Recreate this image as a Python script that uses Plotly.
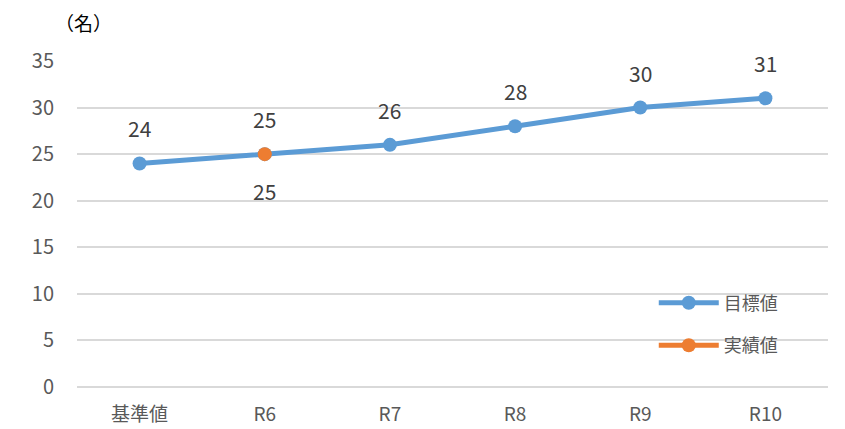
import plotly.graph_objects as go

categories = ["基準値", "R6", "R7", "R8", "R9", "R10"]
target_values = [24, 25, 26, 28, 30, 31]
actual_categories = ["R6"]
actual_values = [25]
y_ticks = [0, 5, 10, 15, 20, 25, 30, 35]

FONT = "Noto Sans CJK JP, Lato, sans-serif"
BLUE = "#5B9BD5"
ORANGE = "#ED7D31"

fig = go.Figure()
fig.add_trace(go.Scatter(
    x=categories, y=target_values, mode="lines+markers", name="目標値",
    line=dict(color=BLUE, width=5), marker=dict(color=BLUE, size=14),
    legendgroup="a", cliponaxis=False,
))
fig.add_trace(go.Scatter(
    x=actual_categories, y=actual_values, mode="lines+markers", name="実績値",
    line=dict(color=ORANGE, width=5), marker=dict(color=ORANGE, size=14),
    legendgroup="b", cliponaxis=False,
))

annotations = []
for c, v in zip(categories, target_values):
    annotations.append(dict(x=c, y=v, text=str(v), showarrow=False, yshift=35,
                            font=dict(family=FONT, size=21, color="#404040")))
for c, v in zip(actual_categories, actual_values):
    annotations.append(dict(x=c, y=v, text=str(v), showarrow=False, yshift=-37,
                            font=dict(family=FONT, size=21, color="#404040")))
annotations.append(dict(xref="paper", yref="paper", x=0.0, y=1.0, yshift=39,
                        xshift=6, xanchor="center", yanchor="middle",
                        text="（名）", showarrow=False,
                        font=dict(family=FONT, size=19, color="#000000")))

fig.update_layout(
    width=845, height=429,
    margin=dict(l=77, r=17, t=61, b=42, autoexpand=False),
    paper_bgcolor="white", plot_bgcolor="white",
    font=dict(family=FONT, color="#595959"),
    showlegend=True,
    legend=dict(x=0.768, y=0.193, xanchor="left", yanchor="middle",
                bgcolor="rgba(0,0,0,0)", font=dict(size=18, color="#595959"),
                tracegroupgap=16, itemwidth=60),
    annotations=annotations,
)
fig.update_xaxes(type="category", showgrid=False, showline=False, zeroline=False,
                 tickfont=dict(size=19, color="#595959"), ticks="", ticklabelstandoff=14,
                 range=[-0.5, 5.5], automargin=False)
fig.update_yaxes(range=[0, 35], tickvals=y_ticks, showgrid=True, gridcolor="#D9D9D9",
                 gridwidth=2, zeroline=True, zerolinecolor="#D9D9D9", zerolinewidth=2,
                 showline=False, tickfont=dict(size=20, color="#595959"), ticks="",
                 ticklabelstandoff=22, automargin=False)

fig.write_html("out.html", config={"displayModeBar": False},
               post_script="document.body.style.margin='0';document.body.style.padding='0';document.body.style.overflow='hidden';")
